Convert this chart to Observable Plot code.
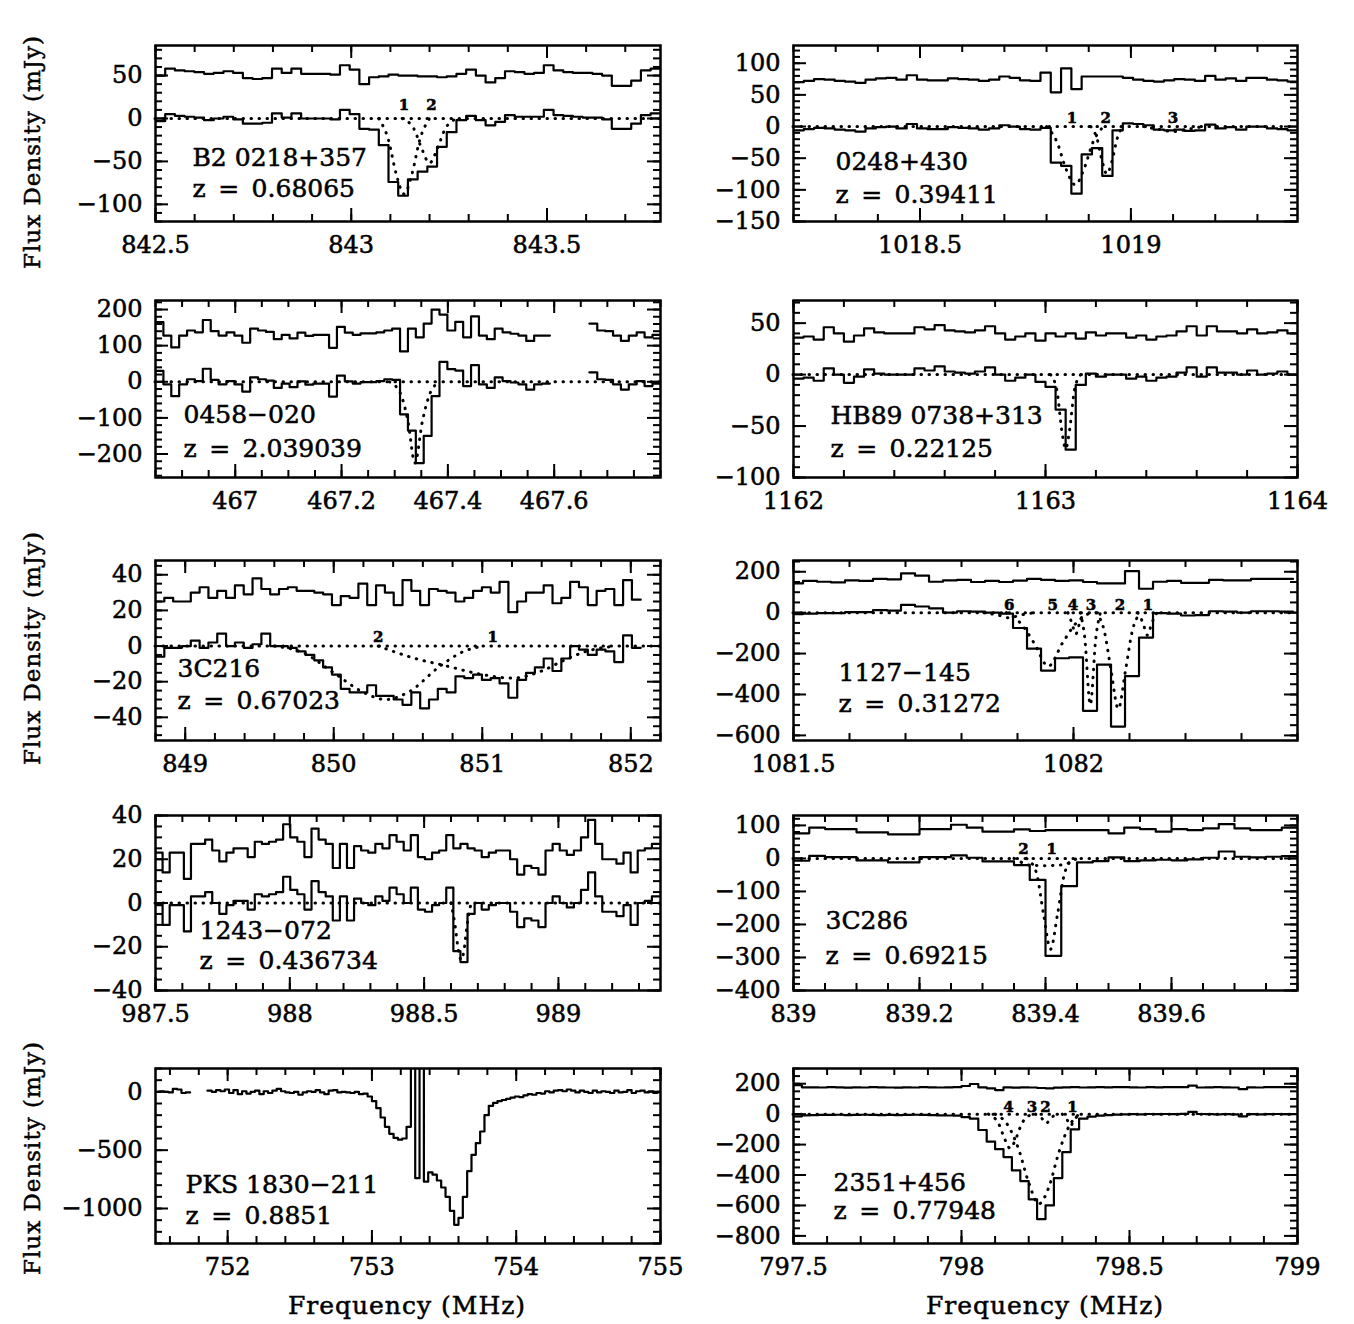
<!DOCTYPE html>
<html><head><meta charset="utf-8">
<script src="https://cdn.jsdelivr.net/npm/d3@7"></script>
<script src="https://cdn.jsdelivr.net/npm/@observablehq/plot@0.6"></script>
<style>
body{margin:0;background:#fff;}
#fig{position:relative;width:1354px;height:1324px;background:#fff;font-family:"DejaVu Serif",serif;color:#000;}
#fig svg{position:absolute;overflow:visible;}
#fig svg text{stroke:#000;stroke-width:0.55px;}
.ytitle{position:absolute;font-size:23px;letter-spacing:1px;white-space:nowrap;transform:translate(-50%,-50%) rotate(-90deg);-webkit-text-stroke:0.5px #000;}
.xtitle{position:absolute;font-size:25px;letter-spacing:1px;white-space:nowrap;transform:translate(-50%,-50%);-webkit-text-stroke:0.5px #000;}
</style></head><body><div id="fig"></div>
<script>
// ---------------- DATA ----------------
// Panel 1: B2 0218+357
const p1Name = "B2 0218+357", p1Z = "0.68065";
const p1Start = 842.5, p1Chan = 0.0248;
const p1Resid = [50,58,56,55,54,52,53,55,53,47,46,47,58,53,58,52,52,52,51,62,57,40,48,49,51,50,50,49,49,48,49,52,57,50,42,47,55,54,52,53,62,56,54,53,53,52,50,38,38,44,56,58];
const p1Flux = [-3,5,3,2,1,-2,0,2,-1,-6,-6,-5,6,1,6,0,0,0,-1,10,5,-12,-13,-31,-74,-90,-71,-62,-56,-33,-16,-2,3,-2,-8,-4,4,2,2,2,10,4,3,2,1,1,-1,-12,-12,-6,4,6];
const p1Fit1 = [[843.07,0],[843.095,-25],[843.115,-65],[843.135,-88],[843.155,-65],[843.175,-25],[843.2,0]];
const p1Fit2 = [[843.13,0],[843.16,-12],[843.18,-35],[843.2,-52],[843.22,-35],[843.24,-12],[843.27,0]];
const p1CompNames = ["1","2"], p1CompX = [843.135, 843.205];
const p1XTicks = [842.5, 843, 843.5], p1YTicks = [50, 0, -50, -100];

// Panel 2: 0248+430
const p2Name = "0248+430", p2Z = "0.39411";
const p2Start = 1018.2, p2Chan = 0.0244;
const p2Resid = [70,72,75,74,72,71,69,74,76,77,74,81,74,73,73,76,75,74,72,74,79,77,73,72,85,54,92,59,79,79,79,79,77,74,72,71,73,75,74,72,80,74,76,72,77,77,74,73,71];
const p2Flux = [-6,-4,-2,-3,-5,-6,-8,-3,-1,0,-3,4,-3,-4,-4,-1,-2,-3,-5,-3,2,0,-4,-5,-2,-57,-62,-106,-44,-34,-78,-6,5,4,2,-5,-6,-5,-7,-6,3,-3,-1,-5,0,0,-3,-4,-6];
const p2Fit1 = [[1018.8,0],[1018.825,-25],[1018.845,-65],[1018.868,-92],[1018.89,-65],[1018.91,-25],[1018.935,0]];
const p2Fit2 = [[1018.905,0],[1018.92,-20],[1018.932,-55],[1018.943,-75],[1018.955,-55],[1018.967,-20],[1018.98,0]];
const p2Fit3 = [[1019.03,0],[1019.07,-5],[1019.1,-8],[1019.13,-5],[1019.17,0]];
const p2CompNames = ["1","2","3"], p2CompX = [1018.86, 1018.94, 1019.1];
const p2XTicks = [1018.5, 1019], p2YTicks = [100, 50, 0, -50, -100, -150];

// Panel 3: 0458-020
const p3Name = "0458\u2212020", p3Z = "2.039039";
const p3Start = 466.85, p3Chan = 0.01484;
const p3Resid = [165,128,95,128,142,137,171,140,128,137,128,108,147,142,138,118,130,120,136,127,130,130,94,152,136,130,134,134,137,142,147,84,147,123,161,200,186,142,166,123,181,128,118,147,137,133,128,113,128,128,null,null,null,null,null,161,142,140,128,113,128,137,123,130];
const p3Flux = [30,-7,-40,-7,7,2,36,5,-7,2,-7,-27,12,7,3,-17,-5,-15,1,-8,-5,-5,-41,17,1,-5,-1,-1,2,7,5,-90,-135,-225,-150,-40,55,35,31,-12,46,-7,-17,12,2,-2,-7,-22,-7,-5,null,null,null,null,null,26,7,5,-7,-22,-7,2,-12,-5];
const p3Fit1 = [[467.29,0],[467.31,-30],[467.325,-110],[467.338,-225],[467.352,-110],[467.367,-30],[467.385,0]];
const p3XTicks = [467, 467.2, 467.4, 467.6], p3YTicks = [200, 100, 0, -100, -200];

// Panel 4: HB89 0738+313
const p4Name = "HB89 0738+313", p4Z = "0.22125";
const p4Start = 1162, p4Chan = 0.04;
const p4Resid = [36,37,34,46,40,32,38,45,41,40,40,40,46,44,48,43,42,41,43,47,40,34,37,40,33,40,37,40,35,41,38,40,40,36,38,34,37,38,42,47,38,47,42,42,40,44,40,41,43,40];
const p4Flux = [-4,-3,-6,6,0,-8,-2,5,1,0,0,0,6,4,8,3,2,1,3,7,0,-6,-3,0,-7,-12,-34,-73,-10,1,-2,0,0,-4,-2,-6,-3,-2,2,7,-2,7,2,2,0,4,0,1,3,0];
const p4Fit1 = [[1163.02,0],[1163.045,-15],[1163.065,-55],[1163.08,-72],[1163.095,-55],[1163.115,-15],[1163.14,0]];
const p4XTicks = [1162, 1163, 1164], p4YTicks = [50, 0, -50, -100];

// Panel 5: 3C216
const p5Name = "3C216", p5Z = "0.67023";
const p5Start = 848.8, p5Chan = 0.0594;
const p5Resid = [25,27,25,25,30,33,27,31,27,34,29,38,32,29,32,33,31,31,30,29,23,28,27,35,23,34,30,23,37,31,23,32,31,30,25,27,31,33,30,36,19,25,30,30,34,24,27,36,33,23,31,32,23,37,26];
const p5Flux = [-6,-1,-1,0,3,-1,2,7,0,2,-1,1,7,0,0,-1,-3,-5,-8,-12,-16,-24,-26,-26,-22,-28,-28,-30,-33,-26,-35,-30,-24,-26,-17,-18,-16,-19,-18,-21,-29,-19,-15,-12,-7,-14,-7,0,-2,-5,-2,-3,-9,6,-1];
const p5Fit2 = [[849.6,0],[849.8,-4],[850.0,-15],[850.2,-26],[850.35,-30],[850.5,-26],[850.72,-11],[850.85,-4],[851.0,0]];
const p5Fit1 = [[850.3,0],[850.55,-7],[850.75,-11],[851.0,-16],[851.2,-18],[851.4,-14],[851.55,-8],[851.7,-3],[851.9,0]];
const p5CompNames = ["2","1"], p5CompX = [850.3, 851.07];
const p5XTicks = [849, 850, 851, 852], p5YTicks = [40, 20, 0, -20, -40];

// Panel 6: 1127-145
const p6Name = "1127\u2212145", p6Z = "0.31272";
const p6Start = 1081.492, p6Chan = 0.025;
const p6Resid = [143,155,151,148,158,155,165,163,192,181,151,158,160,150,155,150,157,165,160,155,158,150,143,143,203,117,151,155,146,146,160,158,158,165,165,165];
const p6Flux = [-7,-5,-2,-2,3,3,12,10,38,30,21,0,7,5,0,-5,-75,-176,-283,-223,-219,-480,-254,-557,-310,-122,-2,-5,-14,-12,7,5,0,7,7,5];
const p6Fit6 = [[1081.84,0],[1081.865,-12],[1081.885,-25],[1081.905,-12],[1081.93,0]];
const p6Fit5 = [[1081.88,0],[1081.905,-50],[1081.93,-150],[1081.955,-262],[1081.98,-150],[1082.005,-50],[1082.03,0]];
const p6Fit4 = [[1081.99,0],[1081.997,-50],[1082.004,-105],[1082.011,-50],[1082.018,0]];
const p6Fit3 = [[1082.012,0],[1082.02,-120],[1082.03,-450],[1082.04,-120],[1082.048,0]];
const p6Fit2 = [[1082.04,0],[1082.055,-90],[1082.067,-280],[1082.08,-470],[1082.093,-280],[1082.105,-90],[1082.12,0]];
const p6Fit1 = [[1082.115,0],[1082.124,-50],[1082.132,-110],[1082.14,-50],[1082.149,0]];
const p6CompNames = ["6","5","4","3","2","1"], p6CompX = [1081.885, 1081.963, 1081.999, 1082.031, 1082.083, 1082.133];
const p6XTicks = [1081.5, 1082], p6YTicks = [200, 0, -200, -400, -600];

// Panel 7: 1243-072
const p7Name = "1243\u2212072", p7Z = "0.436734";
const p7Start = 987.5, p7Chan = 0.0264;
const p7Resid = [23,14,23,23,11,27,27,29,24,19,23,25,25,21,28,27,28,29,36,30,28,21,34,29,27,16,27,16,26,24,23,27,25,31,28,24,31,21,20,23,24,31,25,27,25,24,21,23,24,24,20,13,17,16,13,24,27,24,22,24,30,38,27,20,20,18,23,14,24,25,27];
const p7Flux = [-1,-10,-1,-1,-13,3,3,5,0,-5,-1,1,1,-3,4,3,4,5,12,6,4,-3,10,5,3,-8,3,-8,2,0,-1,3,1,7,4,0,7,-3,-4,-1,0,7,-22,-27,-5,0,-3,-1,0,0,-4,-11,-7,-8,-11,0,3,0,-2,0,6,14,3,-4,-4,-6,-1,-10,0,1,3];
const p7Fit1 = [[988.6,0],[988.615,-10],[988.628,-22],[988.638,-26],[988.648,-22],[988.66,-10],[988.675,0]];
const p7XTicks = [987.5, 988, 988.5, 989], p7YTicks = [40, 20, 0, -20, -40];

// Panel 8: 3C286
const p8Name = "3C286", p8Z = "0.69215";
const p8Start = 839, p8Chan = 0.025;
const p8Resid = [76,93,89,89,79,79,73,73,89,89,102,93,81,81,88,83,86,86,86,86,76,93,89,81,89,86,91,104,91,86,86,93];
const p8Flux = [-7,8,4,4,-6,-6,-12,-12,4,4,9,2,-9,-9,-20,-65,-295,-84,-12,-8,3,-8,-6,-4,-6,-3,2,21,5,3,5,7];
const p8Fit2 = [[839.35,0],[839.36,-10],[839.37,-19],[839.4,-22],[839.43,-19],[839.44,-10],[839.45,0]];
const p8Fit1 = [[839.37,0],[839.385,-40],[839.397,-170],[839.408,-275],[839.419,-170],[839.431,-40],[839.445,0]];
const p8CompNames = ["2","1"], p8CompX = [839.365, 839.41];
const p8XTicks = [839, 839.2, 839.4, 839.6], p8YTicks = [100, 0, -100, -200, -300, -400];

// Panel 9: PKS 1830-211 (off-scale channels beyond the top of the frame)
const p9Name = "PKS 1830\u2212211", p9Z = "0.8851";
const p9Start = 751.5, p9Chan = 0.03;
const p9Flux = [0,5,0,-5,25,20,-10,-5,null,null,null,null,10,0,15,5,20,-10,15,-20,5,-15,0,10,-20,5,-10,10,25,5,-5,-10,0,-25,-5,5,0,15,-5,-20,10,15,-5,0,-5,-10,0,-20,-15,-40,-80,-140,-220,-300,-360,-395,-410,-400,-300,2000,-740,2000,-770,-690,-710,-760,-820,-900,-1020,-1140,-1080,-900,-680,-540,-440,-340,-200,-120,-95,-80,-70,-60,-50,-40,-45,-30,-20,-25,-10,-15,5,-5,10,15,5,20,10,-5,10,0,-10,10,-5,5,0,-10,10,-5,0,15,-10,5,10,-5,5,-10,0];
const p9XTicks = [752, 753, 754, 755], p9YTicks = [0, -500, -1000];

// Panel 10: 2351+456
const p10Name = "2351+456", p10Z = "0.77948";
const p10Start = 797.5, p10Chan = 0.025;
const p10Resid = [190,176,176,175,177,176,174,176,175,177,176,175,174,176,175,177,176,175,176,178,185,198,176,170,158,176,174,176,175,172,170,174,176,178,175,176,177,176,178,177,176,175,177,176,178,177,177,188,175,176,177,176,175,164,176,175,177,178,177,178];
const p10Flux = [-15,-8,-6,-5,-5,-4,-6,-5,-4,-5,-6,-5,-6,-5,-4,-5,-7,-8,-9,-10,-20,-30,-104,-180,-230,-282,-370,-440,-560,-690,-600,-420,-250,-100,-30,-16,-10,-6,-3,-2,0,-1,1,0,1,0,2,15,1,0,-1,0,-1,-14,0,-1,0,1,0,1];
const p10Fit4 = [[798.08,0],[798.11,-60],[798.13,-170],[798.145,-225],[798.16,-170],[798.18,-60],[798.21,0]];
const p10Fit3 = [[798.1,0],[798.14,-80],[798.17,-230],[798.2,-450],[798.23,-590],[798.26,-480],[798.29,-250],[798.32,-80],[798.35,0]];
const p10Fit2 = [[798.22,0],[798.24,-30],[798.252,-60],[798.265,-30],[798.28,0]];
const p10Fit1 = [[798.3,0],[798.315,-40],[798.325,-75],[798.335,-40],[798.35,0]];
const p10CompNames = ["4","3","2","1"], p10CompX = [798.14, 798.21, 798.25, 798.33];
const p10XTicks = [797.5, 798, 798.5, 799], p10YTicks = [200, 0, -200, -400, -600, -800];

// ---------------- DRAWING ----------------
const fmt = d => (d < 0 ? "\u2212" : "") + String(Math.abs(d));
function ticksIn([a, b], step) {
  const out = [];
  const i0 = Math.ceil(a / step - 1e-6), i1 = Math.floor(b / step + 1e-6);
  for (let i = i0; i <= i1; i++) out.push(+(i * step).toFixed(6));
  return out;
}
function bins(start, width, vals) {
  const pts = [];
  vals.forEach((v, i) => {
    const a = start + i * width, b = a + width;
    pts.push({f: a, v}, {f: b, v});
  });
  return pts;
}
const dotted = {stroke: "black", strokeWidth: 3, strokeDasharray: "0.5,7.5", strokeLinecap: "round"};

function makePanel(p) {
  const ML = 130, MR = 14, MT = 10, MB = 56;
  const fw = p.w, fh = p.h, T = 13, t = 7, sw = 2;
  const xMin = ticksIn(p.xd, p.xMinor), yMin = ticksIn(p.yd, p.yMinor);
  const k = {stroke: "black", strokeWidth: sw};
  const marks = [
    Plot.ruleX(xMin, {...k, insetTop: fh - t}),
    Plot.ruleX(xMin, {...k, insetBottom: fh - t}),
    Plot.ruleX(p.xTicks, {...k, insetTop: fh - T}),
    Plot.ruleX(p.xTicks, {...k, insetBottom: fh - T}),
    Plot.ruleY(yMin, {...k, insetRight: fw - t}),
    Plot.ruleY(yMin, {...k, insetLeft: fw - t}),
    Plot.ruleY(p.yTicks, {...k, insetRight: fw - T}),
    Plot.ruleY(p.yTicks, {...k, insetLeft: fw - T}),
    Plot.axisX(p.xTicks, {anchor: "bottom", tickSize: 0, tickPadding: 14, fontSize: 24, tickFormat: fmt, label: null}),
    Plot.axisY(p.yTicks, {anchor: "left", tickSize: 0, tickPadding: 13, fontSize: 24, tickFormat: fmt, label: null})
  ];
  if (p.baseline) marks.push(Plot.ruleY([0], dotted));
  (p.fits || []).forEach(c => marks.push(Plot.line(c, {...dotted, curve: "monotone-x", clip: true})));
  if (p.resid) marks.push(Plot.line(bins(p.start, p.chan, p.resid), {x: "f", y: "v", stroke: "black", strokeWidth: 2.2, clip: true}));
  marks.push(Plot.line(bins(p.start, p.chan, p.flux), {x: "f", y: "v", stroke: "black", strokeWidth: 2.2, clip: true}));
  if (p.compNames) marks.push(Plot.text(p.compNames, {x: (d, i) => p.compX[i], y: () => p.compY, text: d => d, fontSize: 15, fontWeight: "bold", lineAnchor: "bottom"}));
  marks.push(Plot.text([p.name], {text: d => d, frameAnchor: "top-left", dx: p.ldx, dy: p.ldy, textAnchor: "start", lineAnchor: "middle", fontSize: 25}));
  marks.push(Plot.text(["z\u2002=\u2002" + p.z], {text: d => d, frameAnchor: "top-left", dx: p.ldx, dy: p.ldy2, textAnchor: "start", lineAnchor: "middle", fontSize: 25}));
  marks.push(Plot.frame({stroke: "black", strokeWidth: 2.5}));
  const svg = Plot.plot({
    width: ML + fw + MR, height: MT + fh + MB,
    marginLeft: ML, marginRight: MR, marginTop: MT, marginBottom: MB,
    x: {domain: p.xd}, y: {domain: p.yd},
    style: {fontFamily: '"DejaVu Serif", serif', background: "transparent", color: "black", overflow: "visible"},
    marks
  });
  svg.style.left = (p.fx - ML) + "px";
  svg.style.top = (p.fy - MT) + "px";
  document.getElementById("fig").appendChild(svg);
}

const colX = [155, 793], colW = [505, 504];
const rowY = [45, 300, 560, 815, 1068], rowH = [176, 177, 180, 175, 175];
const P = (c, r) => ({fx: colX[c], fy: rowY[r], w: colW[c], h: rowH[r]});

makePanel({...P(0,0), xd: [842.5, 843.79], yd: [-120, 85], xMinor: 0.1, yMinor: 10, xTicks: p1XTicks, yTicks: p1YTicks,
  start: p1Start, chan: p1Chan, resid: p1Resid, flux: p1Flux, baseline: true, fits: [p1Fit1, p1Fit2],
  compNames: p1CompNames, compX: p1CompX, compY: 10, name: p1Name, z: p1Z, ldx: 37, ldy: 112, ldy2: 143});
makePanel({...P(1,0), xd: [1018.2, 1019.395], yd: [-150, 128], xMinor: 0.1, yMinor: 10, xTicks: p2XTicks, yTicks: p2YTicks,
  start: p2Start, chan: p2Chan, resid: p2Resid, flux: p2Flux, baseline: true, fits: [p2Fit1, p2Fit2, p2Fit3],
  compNames: p2CompNames, compX: p2CompX, compY: 5, name: p2Name, z: p2Z, ldx: 42, ldy: 116, ldy2: 149});
makePanel({...P(0,1), xd: [466.85, 467.8], yd: [-265, 225], xMinor: 0.05, yMinor: 20, xTicks: p3XTicks, yTicks: p3YTicks,
  start: p3Start, chan: p3Chan, resid: p3Resid, flux: p3Flux, baseline: true, fits: [p3Fit1],
  name: p3Name, z: p3Z, ldx: 28, ldy: 114, ldy2: 148});
makePanel({...P(1,1), xd: [1162, 1164], yd: [-100, 72], xMinor: 0.2, yMinor: 10, xTicks: p4XTicks, yTicks: p4YTicks,
  start: p4Start, chan: p4Chan, resid: p4Resid, flux: p4Flux, baseline: true, fits: [p4Fit1],
  name: p4Name, z: p4Z, ldx: 37, ldy: 115, ldy2: 148});
makePanel({...P(0,2), xd: [848.8, 852.2], yd: [-53, 48], xMinor: 0.2, yMinor: 5, xTicks: p5XTicks, yTicks: p5YTicks,
  start: p5Start, chan: p5Chan, resid: p5Resid, flux: p5Flux, baseline: true, fits: [p5Fit2, p5Fit1],
  compNames: p5CompNames, compX: p5CompX, compY: 2, name: p5Name, z: p5Z, ldx: 22, ldy: 108, ldy2: 140});
makePanel({...P(1,2), xd: [1081.5, 1082.4], yd: [-625, 255], xMinor: 0.1, yMinor: 50, xTicks: p6XTicks, yTicks: p6YTicks,
  start: p6Start, chan: p6Chan, resid: p6Resid, flux: p6Flux, baseline: true, fits: [p6Fit6, p6Fit5, p6Fit4, p6Fit3, p6Fit2, p6Fit1],
  compNames: p6CompNames, compX: p6CompX, compY: 12, name: p6Name, z: p6Z, ldx: 45, ldy: 112, ldy2: 143});
makePanel({...P(0,3), xd: [987.5, 989.38], yd: [-40, 40], xMinor: 0.1, yMinor: 5, xTicks: p7XTicks, yTicks: p7YTicks,
  start: p7Start, chan: p7Chan, resid: p7Resid, flux: p7Flux, baseline: true, fits: [p7Fit1],
  name: p7Name, z: p7Z, ldx: 44, ldy: 115, ldy2: 145});
makePanel({...P(1,3), xd: [839, 839.8], yd: [-400, 130], xMinor: 0.05, yMinor: 20, xTicks: p8XTicks, yTicks: p8YTicks,
  start: p8Start, chan: p8Chan, resid: p8Resid, flux: p8Flux, baseline: true, fits: [p8Fit2, p8Fit1],
  compNames: p8CompNames, compX: p8CompX, compY: 12, name: p8Name, z: p8Z, ldx: 32, ldy: 105, ldy2: 140});
makePanel({...P(0,4), xd: [751.5, 755], yd: [-1300, 200], xMinor: 0.2, yMinor: 100, xTicks: p9XTicks, yTicks: p9YTicks,
  start: p9Start, chan: p9Chan, flux: p9Flux, baseline: false,
  name: p9Name, z: p9Z, ldx: 30, ldy: 116, ldy2: 147});
makePanel({...P(1,4), xd: [797.5, 799], yd: [-850, 300], xMinor: 0.1, yMinor: 50, xTicks: p10XTicks, yTicks: p10YTicks,
  start: p10Start, chan: p10Chan, resid: p10Resid, flux: p10Flux, baseline: true, fits: [p10Fit4, p10Fit3, p10Fit2, p10Fit1],
  compNames: p10CompNames, compX: p10CompX, compY: 12, name: p10Name, z: p10Z, ldx: 40, ldy: 114, ldy2: 142});

// axis titles
const fig = document.getElementById("fig");
[152, 648, 1158].forEach(y => {
  const d = document.createElement("div");
  d.className = "ytitle"; d.textContent = "Flux Density (mJy)";
  d.style.left = "32px"; d.style.top = y + "px";
  fig.appendChild(d);
});
[407, 1045].forEach(x => {
  const d = document.createElement("div");
  d.className = "xtitle"; d.textContent = "Frequency (MHz)";
  d.style.left = x + "px"; d.style.top = "1305px";
  fig.appendChild(d);
});
</script></body></html>
